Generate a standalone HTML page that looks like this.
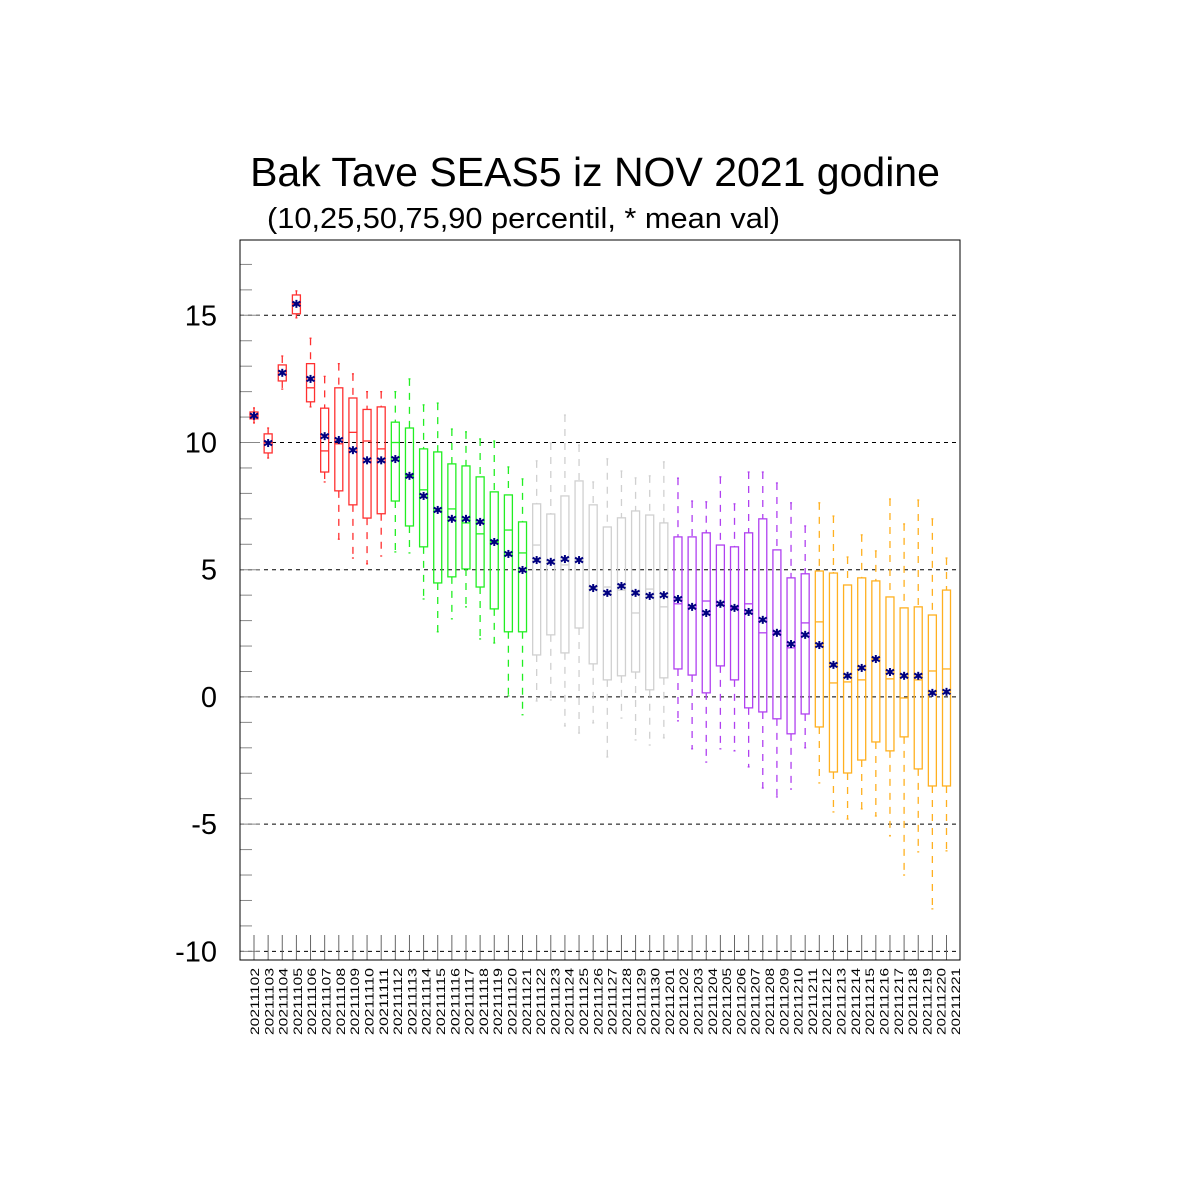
<!DOCTYPE html>
<html><head><meta charset="utf-8"><style>
html,body{margin:0;padding:0;background:#fff;}
svg{display:block;font-family:"Liberation Sans",sans-serif;}
</style></head><body>
<svg id="chart" width="1200" height="1200" viewBox="0 0 1200 1200" xmlns="http://www.w3.org/2000/svg">
<rect width="1200" height="1200" fill="#fff"/>
<text x="595" y="186" font-size="41" text-anchor="middle">Bak Tave SEAS5 iz NOV 2021 godine</text>
<text x="267" y="228" font-size="29" textLength="513" lengthAdjust="spacingAndGlyphs">(10,25,50,75,90 percentil, * mean val)</text>
<g id="grid"></g>
<g id="yaxis"></g>
<g id="xaxis"></g>
<g id="boxes"></g>
<rect x="240" y="240" width="720" height="720" fill="none" stroke="#000" stroke-width="1"/>
</svg>
<script>
const dates=["20211102","20211103","20211104","20211105","20211106","20211107","20211108","20211109","20211110","20211111","20211112","20211113","20211114","20211115","20211116","20211117","20211118","20211119","20211120","20211121","20211122","20211123","20211124","20211125","20211126","20211127","20211128","20211129","20211130","20211201","20211202","20211203","20211204","20211205","20211206","20211207","20211208","20211209","20211210","20211211","20211212","20211213","20211214","20211215","20211216","20211217","20211218","20211219","20211220","20211221"];
const p10=[10.77,9.39,12.1,14.9,11.4,8.45,6.2,5.46,5.23,5.54,5.7,5.66,3.85,2.56,3.07,3.54,2.28,2.12,0.04,-0.7,-0.16,-0.12,-1.14,-1.42,-1.02,-2.36,-0.83,-1.69,-1.89,-1.61,-0.94,-2.04,-2.56,-2.04,-2.12,-2.75,-3.58,-3.93,-3.62,-2.0,-3.38,-4.52,-4.8,-4.4,-4.68,-5.46,-7.0,-6.09,-8.33,-6.05];
const p25=[10.93,9.59,12.42,15.06,11.6,8.84,8.1,7.55,7.03,7.2,7.7,6.72,5.9,4.48,4.72,5.03,4.32,3.46,2.56,2.56,1.65,2.44,1.73,2.71,1.3,0.67,0.83,0.98,0.28,0.75,1.1,0.86,0.16,1.22,0.67,-0.43,-0.59,-0.86,-1.45,-0.67,-1.18,-2.95,-2.99,-2.48,-1.77,-2.12,-1.57,-2.83,-3.5,-3.5];
const p50=[11.05,10.0,12.8,15.45,12.15,9.67,9.95,10.4,10.06,9.75,10.0,8.7,8.14,7.3,7.39,6.84,6.41,6.1,6.56,5.66,5.97,5.3,5.19,5.4,4.3,4.32,4.2,3.3,4.24,3.54,3.66,3.5,3.77,3.6,3.5,3.66,2.52,2.5,1.93,2.91,2.95,0.55,0.59,0.67,1.5,0.71,-0.04,0.67,1.02,1.1];
const p75=[11.2,10.34,13.05,15.8,13.1,11.35,12.15,11.75,11.3,11.4,10.8,10.57,9.75,9.63,9.16,9.08,8.65,8.06,7.94,6.88,7.59,7.19,7.9,8.49,7.55,6.68,7.04,7.31,7.15,6.84,6.29,6.29,6.45,5.97,5.9,6.45,7.0,5.78,4.68,4.84,4.95,4.87,4.4,4.68,4.56,3.93,3.5,3.54,3.22,4.2];
const p90=[11.36,10.57,13.4,15.96,14.1,12.6,13.1,12.7,12.0,12.0,12.0,12.5,11.48,11.55,10.53,10.42,10.14,10.06,9.04,8.57,9.28,9.98,11.08,9.9,8.45,9.36,8.88,8.61,8.69,9.24,8.6,7.7,7.67,8.65,7.59,8.84,8.84,8.41,7.63,6.72,7.63,7.11,5.5,6.37,5.74,7.78,6.8,7.74,7.0,5.46];
const means=[11.05,9.98,12.74,15.45,12.5,10.25,10.1,9.7,9.3,9.3,9.35,8.69,7.9,7.35,7.0,7.0,6.88,6.09,5.62,4.99,5.38,5.31,5.42,5.38,4.28,4.09,4.36,4.09,3.97,4.0,3.85,3.54,3.3,3.66,3.5,3.34,3.03,2.52,2.08,2.44,2.04,1.26,0.83,1.14,1.49,0.98,0.83,0.83,0.16,0.2];
const yTicks=[15,10,5,0,-5,-10];
const groupColors=["#ff3030","#22ee22","#d0d0d0","#b040f0","#ffb020"];

const NS="http://www.w3.org/2000/svg";
const X0=240,W=720,Y0=240,H=720,YMAX=17.96,YMIN=-10.34;
const XFIRST=254,XLAST=946.5;
const xs=i=>XFIRST+i*(XLAST-XFIRST)/(dates.length-1);
const ys=v=>Y0+(YMAX-v)/(YMAX-YMIN)*H;
function mk(tag,attrs,parent){const e=document.createElementNS(NS,tag);for(const k in attrs)e.setAttribute(k,attrs[k]);parent.appendChild(e);return e;}
const grid=document.getElementById('grid'),yax=document.getElementById('yaxis'),xax=document.getElementById('xaxis'),bx=document.getElementById('boxes');

for(let v=-10;v<=17;v++){
  const t=mk('line',{x1:X0,x2:X0+(v%5===0?20:12),y1:ys(v),y2:ys(v),stroke:'#888','stroke-width':1},yax);
  
  
}
yTicks.forEach(v=>{
  const g=mk('line',{x1:X0,x2:X0+W,y1:ys(v),y2:ys(v),stroke:'#000','stroke-width':1,'stroke-dasharray':'4,4'},grid);
  
  
  const t=mk('text',{x:217,y:ys(v)+10,'font-size':29,'text-anchor':'end'},yax);
  t.textContent=String(v);
  
  
});

dates.forEach((d,i)=>{
  const x=xs(i);
  const tk=mk('line',{x1:x,x2:x,y1:Y0+H,y2:Y0+H-25,stroke:'#666','stroke-width':1},xax);
  
  
  const lx=254+i*(955-254)/(dates.length-1)+5;
  const lb=mk('text',{x:0,y:0,'font-size':12,'text-anchor':'end',textLength:67,lengthAdjust:'spacingAndGlyphs',transform:`translate(${lx},${968}) rotate(-90)`},xax);
  lb.textContent=d;
  
  

  const c=groupColors[Math.floor(i/10)];
  const g=mk('g',{},bx);
  
  
  const hw=4;
  mk('line',{x1:x,x2:x,y1:ys(p90[i]),y2:ys(p75[i]),stroke:c,'stroke-width':1.3,'stroke-dasharray':'7,7'},g);
  mk('line',{x1:x,x2:x,y1:ys(p25[i]),y2:ys(p10[i]),stroke:c,'stroke-width':1.3,'stroke-dasharray':'7,7'},g);
  mk('line',{x1:x-1,x2:x+1,y1:ys(p90[i]),y2:ys(p90[i]),stroke:c,'stroke-width':1.3},g);
  mk('line',{x1:x-1,x2:x+1,y1:ys(p10[i]),y2:ys(p10[i]),stroke:c,'stroke-width':1.3},g);
  mk('rect',{x:x-hw,y:ys(p75[i]),width:hw*2,height:ys(p25[i])-ys(p75[i]),fill:'none',stroke:c,'stroke-width':1.3},g);
  mk('line',{x1:x-hw,x2:x+hw,y1:ys(p50[i]),y2:ys(p50[i]),stroke:c,'stroke-width':1.3},g);
  const m=mk('g',{stroke:'#000080','stroke-width':2},bx);
  
  
  const my=ys(means[i]),r=4;
  mk('line',{x1:x,x2:x,y1:my-r,y2:my+r},m);
  mk('line',{x1:x-r,x2:x+r,y1:my-r*0.6,y2:my+r*0.6},m);
  mk('line',{x1:x-r,x2:x+r,y1:my+r*0.6,y2:my-r*0.6},m);
});
</script>
</body></html>
